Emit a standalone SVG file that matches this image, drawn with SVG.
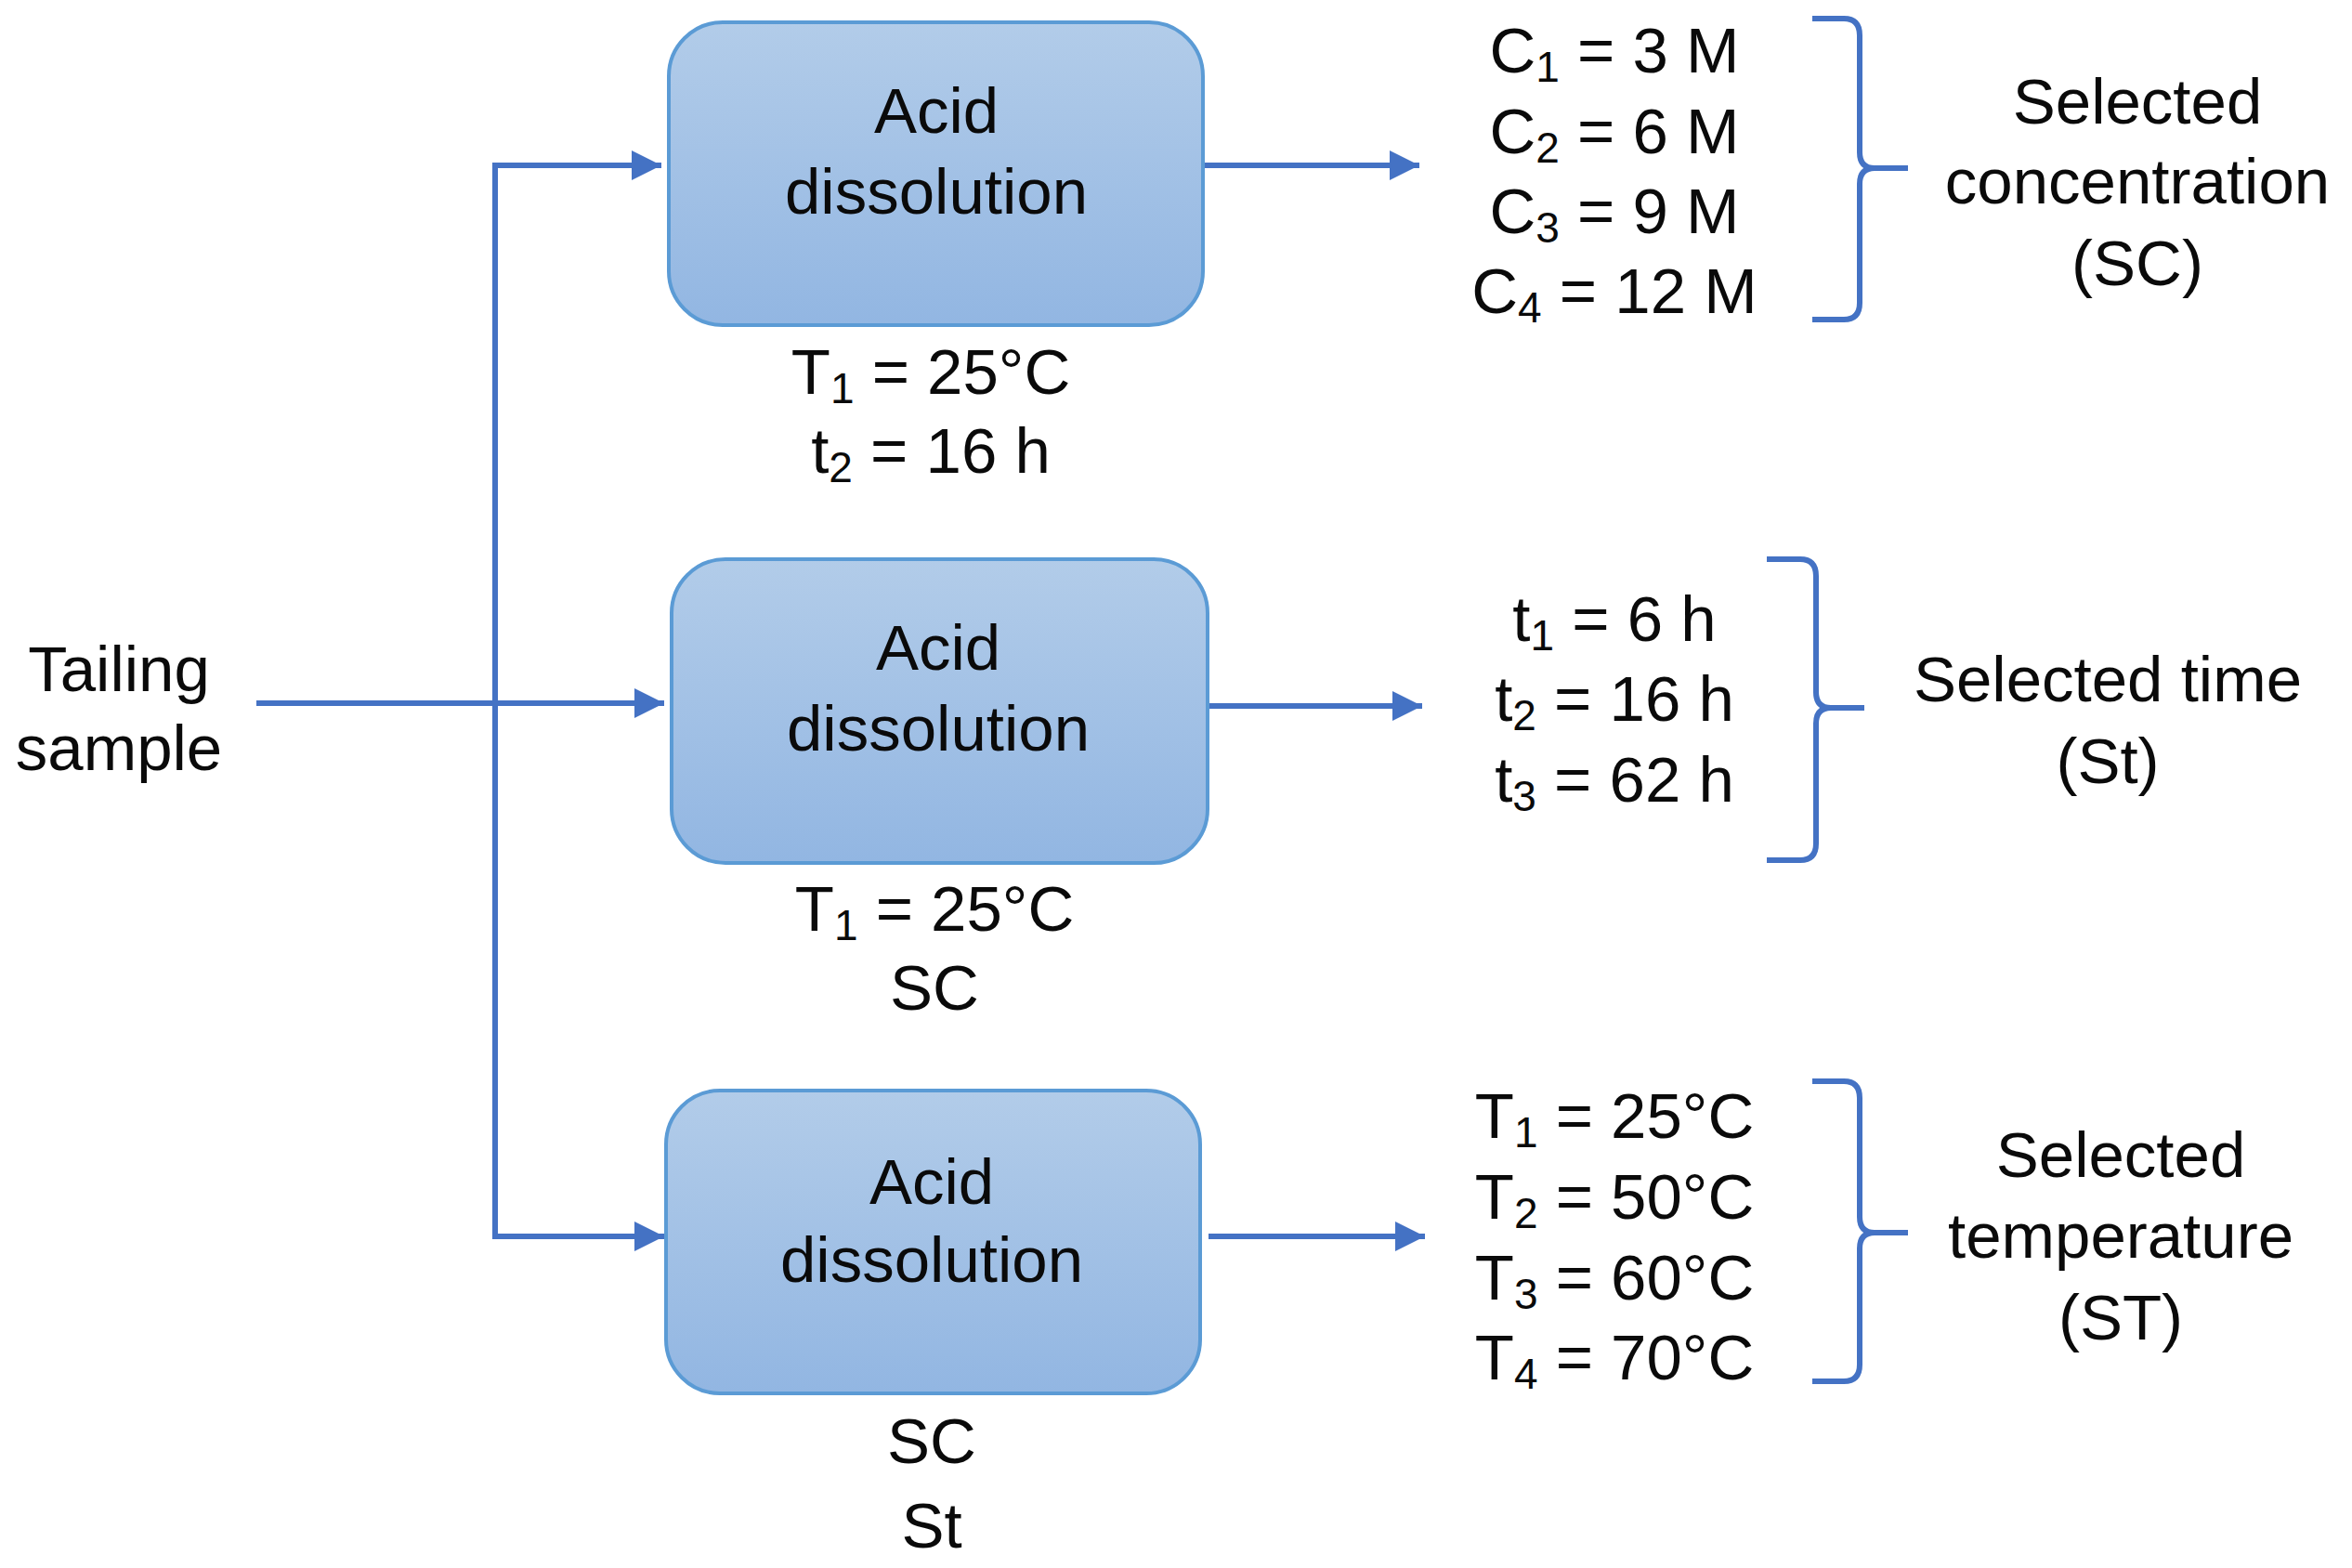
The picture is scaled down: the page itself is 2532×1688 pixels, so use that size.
<svg xmlns="http://www.w3.org/2000/svg" width="2532" height="1688" viewBox="0 0 2532 1688">
<defs>
<linearGradient id="boxFill" x1="0" y1="0" x2="0" y2="1">
<stop offset="0" stop-color="#B2CCE9"/>
<stop offset="1" stop-color="#92B6E2"/>
</linearGradient>
<marker id="arr" viewBox="0 0 10 10" refX="10" refY="5" markerWidth="5.4" markerHeight="5.6" markerUnits="strokeWidth" orient="auto">
<path d="M0,0 L10,5 L0,10 Z" fill="#4472C4"/>
</marker>
<style>
text{font-family:"Liberation Sans",Arial,sans-serif;font-size:69px;fill:#0a0a0a;text-anchor:middle}
.box{fill:url(#boxFill);stroke:#5B9BD5;stroke-width:4}
.conn{fill:none;stroke:#4472C4;stroke-width:6}
.brace{fill:none;stroke:#4472C4;stroke-width:6}
.sub{font-size:46px}
</style>
</defs>
<rect width="2532" height="1688" fill="#fff"/>

<g id="connectors">
<line class="conn" x1="533" y1="175" x2="533" y2="1334"/>
<line class="conn" x1="276" y1="757" x2="715" y2="757" marker-end="url(#arr)"/>
<line class="conn" x1="530" y1="178" x2="712" y2="178" marker-end="url(#arr)"/>
<line class="conn" x1="530" y1="1331" x2="715" y2="1331" marker-end="url(#arr)"/>
<line class="conn" x1="1295" y1="178" x2="1528" y2="178" marker-end="url(#arr)"/>
<line class="conn" x1="1300" y1="760" x2="1531" y2="760" marker-end="url(#arr)"/>
<line class="conn" x1="1301" y1="1331" x2="1534" y2="1331" marker-end="url(#arr)"/>
</g>

<g id="tailing-sample">
<text x="128" y="744">Tailing</text>
<text x="128" y="829">sample</text>
</g>

<g id="box1">
<rect class="box" x="720" y="24" width="575" height="326" rx="58"/>
<text x="1008" y="143">Acid</text>
<text x="1008" y="230">dissolution</text>
</g>
<g id="box1-conditions">
<text x="1002" y="424">T<tspan class="sub" dy="10">1</tspan><tspan dy="-10"> = 25°C</tspan></text>
<text x="1002" y="509">t<tspan class="sub" dy="10">2</tspan><tspan dy="-10"> = 16 h</tspan></text>
</g>

<g id="box2">
<rect class="box" x="723" y="602" width="577" height="327" rx="58"/>
<text x="1010" y="721">Acid</text>
<text x="1010" y="808">dissolution</text>
</g>
<g id="box2-conditions">
<text x="1006" y="1002">T<tspan class="sub" dy="10">1</tspan><tspan dy="-10"> = 25°C</tspan></text>
<text x="1006" y="1087">SC</text>
</g>

<g id="box3">
<rect class="box" x="717" y="1174" width="575" height="326" rx="58"/>
<text x="1003" y="1296">Acid</text>
<text x="1003" y="1380">dissolution</text>
</g>
<g id="box3-conditions">
<text x="1003" y="1575">SC</text>
<text x="1003" y="1666">St</text>
</g>

<g id="concentrations">
<text x="1738" y="78">C<tspan class="sub" dy="10">1</tspan><tspan dy="-10"> = 3 M</tspan></text>
<text x="1738" y="165">C<tspan class="sub" dy="10">2</tspan><tspan dy="-10"> = 6 M</tspan></text>
<text x="1738" y="251">C<tspan class="sub" dy="10">3</tspan><tspan dy="-10"> = 9 M</tspan></text>
<text x="1738" y="337">C<tspan class="sub" dy="10">4</tspan><tspan dy="-10"> = 12 M</tspan></text>
<path class="brace" d="M1951,20 L1985,20 Q2002,20 2002,38 L2002,164 Q2002,181 2018,181 L2054,181 M2018,181 Q2002,181 2002,198 L2002,326 Q2002,344 1985,344 L1951,344"/>
<text x="2301" y="133">Selected</text>
<text x="2301" y="219">concentration</text>
<text x="2301" y="307">(SC)</text>
</g>

<g id="times">
<text x="1738" y="690">t<tspan class="sub" dy="10">1</tspan><tspan dy="-10"> = 6 h</tspan></text>
<text x="1738" y="776">t<tspan class="sub" dy="10">2</tspan><tspan dy="-10"> = 16 h</tspan></text>
<text x="1738" y="863">t<tspan class="sub" dy="10">3</tspan><tspan dy="-10"> = 62 h</tspan></text>
<path class="brace" d="M1902,602 L1938,602 Q1955,602 1955,620 L1955,745 Q1955,762 1971,762 L2007,762 M1971,762 Q1955,762 1955,779 L1955,908 Q1955,926 1938,926 L1902,926"/>
<text x="2269" y="755">Selected time</text>
<text x="2269" y="843">(St)</text>
</g>

<g id="temperatures">
<text x="1738" y="1225">T<tspan class="sub" dy="10">1</tspan><tspan dy="-10"> = 25°C</tspan></text>
<text x="1738" y="1312">T<tspan class="sub" dy="10">2</tspan><tspan dy="-10"> = 50°C</tspan></text>
<text x="1738" y="1399">T<tspan class="sub" dy="10">3</tspan><tspan dy="-10"> = 60°C</tspan></text>
<text x="1738" y="1485">T<tspan class="sub" dy="10">4</tspan><tspan dy="-10"> = 70°C</tspan></text>
<path class="brace" d="M1951,1164 L1985,1164 Q2002,1164 2002,1182 L2002,1310 Q2002,1327 2018,1327 L2054,1327 M2018,1327 Q2002,1327 2002,1344 L2002,1469 Q2002,1487 1985,1487 L1951,1487"/>
<text x="2283" y="1267">Selected</text>
<text x="2283" y="1354">temperature</text>
<text x="2283" y="1442">(ST)</text>
</g>
</svg>
